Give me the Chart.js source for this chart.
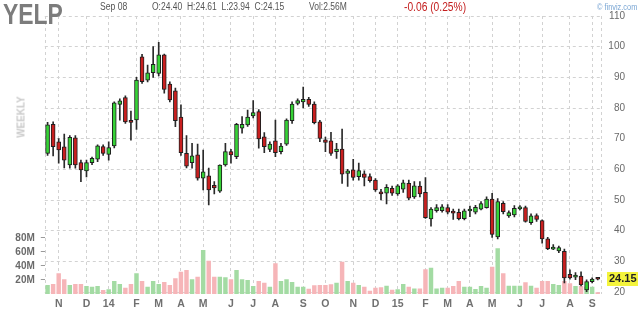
<!DOCTYPE html>
<html>
<head>
<meta charset="utf-8">
<script src="https://cdn.jsdelivr.net/npm/chart.js@4/dist/chart.umd.min.js"></script>
<style>
  html, body { margin: 0; padding: 0; background: #fff; }
  #wrap { position: relative; width: 640px; height: 312px; overflow: hidden; font-family: 'Liberation Sans', Arial, sans-serif; }
  #wrap canvas { position: absolute; left: 0; top: 0; }
  .txt { position: absolute; white-space: pre; line-height: 1; transform-origin: left top; }
  #ticker { left: 3px; top: 0px; font-size: 29px; font-weight: bold; color: #7c7c7c; transform: scaleX(0.79); }
  #date { left: 100px; top: 1.5px; font-size: 10px; color: #555; transform: scaleX(0.86); }
  #ohlc { left: 152px; top: 1.5px; font-size: 10px; color: #555; transform: scaleX(0.85); }
  #vol { left: 309px; top: 1.5px; font-size: 10px; color: #555; transform: scaleX(0.85); }
  #chg { left: 404px; top: 1px; font-size: 12.5px; color: #c41e1e; transform: scaleX(0.82); }
  #site { left: 597px; top: 2.5px; font-size: 9px; color: #7aa6d4; transform: scaleX(0.82); }
  #period { left: 21px; top: 117px; font-size: 11px; font-weight: bold; color: #c9c9c9; transform-origin: center; transform: translate(-50%, -50%) rotate(-90deg) scaleX(0.9); }
</style>
</head>
<body>
<div id="wrap">
  <canvas id="myChart" width="640" height="312"></canvas>
  <div class="txt" id="ticker">YELP</div>
  <div class="txt" id="date">Sep 08</div>
  <div class="txt" id="ohlc">O:24.40  H:24.61  L:23.94  C:24.15</div>
  <div class="txt" id="vol">Vol:2.56M</div>
  <div class="txt" id="chg">-0.06 (0.25%)</div>
  <div class="txt" id="site">© finviz.com</div>
  <div class="txt" id="period">WEEKLY</div>
</div>
<script>
// weekly bars, week ending Friday
const startWeek = '2013-10-18';
const monthLetters = ['J', 'F', 'M', 'A', 'M', 'J', 'J', 'A', 'S', 'O', 'N', 'D'];

const open = [65.2, 74.7, 69.0, 67.3, 61.4, 70.3, 62.2, 59.5, 62.2, 63.3,
    67.4, 64.9, 67.6, 81.2, 83.4, 76.0, 76.1, 96.7, 89.1, 91.5,
    91.3, 97.3, 87.8, 85.6, 77.0, 65.2, 62.2, 64.7, 57.1, 57.9,
    54.8, 52.9, 61.4, 65.8, 64.1, 73.4, 74.5, 77.4, 78.8, 70.6,
    66.5, 69.3, 65.8, 68.2, 75.9, 81.5, 82.0, 82.8, 81.3, 75.5,
    69.6, 69.3, 65.8, 66.6, 58.7, 59.8, 57.6, 58.5, 57.6, 56.5,
    52.7, 52.2, 53.8, 52.0, 53.5, 55.4, 51.0, 54.5, 52.5, 43.8,
    46.5, 46.5, 47.5, 46.4, 46.0, 43.9, 46.4, 46.0, 47.0, 47.5,
    50.3, 38.0, 48.9, 44.8, 45.1, 47.1, 47.5, 42.6, 44.9, 43.3,
    37.3, 34.0, 33.4, 33.3, 25.8, 24.8, 25.2, 20.7, 23.4, 24.40];
const high = [75.3, 75.5, 70.0, 71.5, 71.0, 71.0, 63.0, 63.0, 64.0, 68.0,
    68.0, 69.0, 82.0, 83.0, 84.0, 79.0, 90.0, 97.5, 94.0, 100.0,
    101.4, 97.6, 88.5, 86.5, 81.0, 71.0, 68.5, 68.2, 66.3, 60.4,
    56.0, 61.5, 68.5, 66.5, 75.0, 77.2, 79.3, 82.4, 79.5, 72.0,
    69.0, 76.1, 68.5, 76.5, 82.0, 83.0, 86.8, 83.5, 82.0, 76.0,
    70.5, 72.1, 68.5, 73.1, 60.0, 63.3, 62.0, 59.5, 58.5, 57.0,
    53.5, 55.0, 54.5, 55.0, 56.5, 56.5, 56.0, 56.0, 57.3, 47.5,
    48.5, 48.5, 48.5, 47.0, 47.0, 47.0, 48.0, 48.3, 49.5, 51.0,
    52.2, 50.5, 49.5, 46.5, 48.2, 48.2, 48.0, 45.5, 45.5, 43.5,
    37.8, 35.5, 35.0, 34.0, 27.2, 26.3, 26.6, 24.0, 24.6, 24.61];
const low = [64.5, 64.4, 62.0, 60.5, 60.4, 60.4, 56.0, 57.5, 61.5, 62.5,
    64.5, 63.0, 67.0, 76.0, 75.0, 69.5, 73.0, 88.0, 88.5, 90.0,
    90.5, 84.8, 82.0, 73.9, 64.5, 60.5, 60.4, 56.5, 53.3, 48.4,
    52.0, 52.5, 61.0, 62.0, 63.5, 71.8, 74.0, 76.8, 66.9, 65.4,
    65.8, 64.1, 65.0, 67.8, 75.0, 81.0, 80.0, 80.5, 74.8, 69.0,
    65.8, 64.5, 63.6, 55.4, 54.4, 56.5, 56.5, 54.6, 55.8, 52.8,
    50.0, 48.7, 51.5, 51.5, 52.5, 50.0, 50.5, 51.0, 44.0, 41.5,
    46.0, 46.0, 45.5, 43.7, 43.5, 43.5, 44.6, 45.5, 46.8, 47.3,
    37.8, 37.3, 45.5, 44.3, 44.5, 46.8, 42.8, 42.0, 43.0, 35.9,
    33.8, 33.8, 32.8, 23.0, 24.2, 24.0, 22.0, 20.1, 23.0, 23.94];
const close = [74.5, 67.4, 66.3, 63.0, 70.4, 61.4, 59.8, 62.2, 63.6, 67.7,
    65.2, 67.1, 81.7, 82.3, 75.5, 75.3, 89.1, 88.6, 91.5, 94.2,
    97.3, 86.1, 82.6, 75.9, 65.4, 61.0, 64.4, 57.1, 59.2, 53.3,
    53.9, 61.4, 65.8, 64.7, 74.7, 74.7, 77.0, 78.5, 69.9, 67.4,
    68.2, 65.4, 67.6, 76.1, 81.3, 82.4, 82.8, 81.2, 75.2, 70.1,
    68.8, 65.2, 66.6, 58.4, 59.5, 57.4, 59.6, 57.4, 56.3, 53.3,
    52.0, 54.1, 52.2, 54.6, 55.6, 50.6, 54.6, 52.0, 44.2, 47.0,
    47.5, 47.8, 46.0, 45.7, 43.9, 46.5, 47.0, 47.6, 48.8, 50.3,
    38.8, 49.5, 46.2, 45.9, 47.3, 47.8, 43.0, 44.8, 43.7, 37.3,
    34.1, 34.2, 34.5, 24.6, 24.6, 25.5, 22.3, 23.4, 24.2, 24.15];
// weekly volume, millions of shares
const volume = [12.9, 14.3, 29.5, 21, 12.9, 14.3, 14.3, 11.4, 10.5, 11.4,
    5.7, 6.7, 18.6, 14.3, 9, 14.3, 29.5, 18.6, 10.5, 18.6,
    14.3, 17.1, 12.9, 22.4, 31.9, 34.3, 21, 24.8, 62.9, 47.6,
    24.8, 24.8, 23.8, 21, 34.3, 21, 20, 11.4, 18.6, 16.2,
    10.5, 43.8, 18.6, 21, 17.1, 10.5, 10.5, 7.6, 12.4, 13,
    13, 13.8, 16.2, 46.2, 18.6, 16.2, 13, 10.5, 4.8, 9,
    9.5, 11.9, 6, 6.7, 14.3, 10.5, 8, 8, 35.2, 37.6,
    8, 9, 9, 11.4, 18.6, 10.5, 10.5, 7, 11.4, 9,
    39, 65.2, 29.5, 11.9, 11.9, 11.9, 16.7, 11.9, 9, 18.6,
    18.6, 14.3, 13, 18.6, 15.2, 11.4, 11.4, 10.5, 10.5, 2.56];

const priceTicks = [20, 30, 40, 50, 60, 70, 80, 90, 100, 110];
const volumeTicks = [20, 40, 60, 80];

const weeks = [];
for (let i = 0; i < close.length; i++) {
    const d = new Date(Date.parse(startWeek) + i * 7 * 864e5);
    weeks.push(d.toISOString().slice(0, 10));
}

function tickText(i) {
    if (!i) return '';
    const m = +weeks[i].slice(5, 7) - 1;
    if (m === +weeks[i - 1].slice(5, 7) - 1) return '';
    return m === 0 ? weeks[i].slice(2, 4) : monthLetters[m];
}

const up = close.map((c, i) => c >= open[i]);
const gridColor = '#d2d2d2';

const framePlugin = {
    id: 'frame',
    beforeDatasetsDraw(chart) {
        const { ctx, chartArea: a } = chart;
        ctx.save();
        ctx.strokeStyle = gridColor;
        ctx.lineWidth = 1;
        ctx.setLineDash([3, 3]);
        ctx.beginPath();
        ctx.moveTo(Math.round(a.left) + 0.5, a.top);
        ctx.lineTo(Math.round(a.left) + 0.5, a.bottom);
        ctx.moveTo(Math.round(a.right) + 0.5, a.top);
        ctx.lineTo(Math.round(a.right) + 0.5, a.bottom);
        ctx.stroke();
        ctx.restore();
    },
    afterDraw(chart) {
        // last price tag on the price axis
        const { ctx } = chart;
        const last = close[close.length - 1];
        const y = chart.scales.price.getPixelForValue(last);
        ctx.save();
        ctx.fillStyle = '#f4f43c';
        ctx.fillRect(607, Math.round(y) - 7, 31, 14);
        ctx.fillStyle = '#222';
        ctx.font = 'bold 11px "Liberation Sans", Arial, sans-serif';
        ctx.textAlign = 'left';
        ctx.textBaseline = 'middle';
        ctx.fillText(last.toFixed(2), 609, Math.round(y));
        ctx.restore();
    }
};

function renderChart() {
    const ctx = document.getElementById('myChart');
    return new Chart(ctx, {
        type: 'bar',
        data: {
            labels: weeks,
            datasets: [{
                label: 'Body',
                data: open.map((o, i) => [Math.min(o, close[i]), Math.max(o, close[i])]),
                yAxisID: 'price',
                backgroundColor: up.map(u => u ? '#36d236' : '#c91f1f'),
                borderColor: '#1e1e1e',
                borderWidth: 1,
                borderSkipped: false,
                barThickness: 4,
                minBarLength: 2,
                grouped: false,
                order: 0
            }, {
                label: 'Wick',
                data: low.map((l, i) => [l, high[i]]),
                yAxisID: 'price',
                backgroundColor: '#2a2a2a',
                borderWidth: 0,
                barThickness: 1,
                grouped: false,
                order: 1
            }, {
                label: 'Volume',
                data: volume,
                yAxisID: 'vol',
                backgroundColor: up.map(u => u ? '#a3dba3' : '#f6b5b8'),
                borderWidth: 0,
                barPercentage: 0.8,
                categoryPercentage: 1,
                grouped: false,
                order: 2
            }]
        },
        options: {
            responsive: false,
            animation: false,
            layout: { padding: { top: 16, right: 15, left: 0, bottom: 0 } },
            plugins: {
                legend: { display: false },
                tooltip: { enabled: false }
            },
            scales: {
                x: {
                    offset: true,
                    grid: {
                        offset: false,
                        drawTicks: false,
                        color: c => tickText(c.index) ? gridColor : 'rgba(0,0,0,0)'
                    },
                    border: { display: false, dash: [3, 3] },
                    ticks: {
                        autoSkip: false,
                        maxRotation: 0,
                        minRotation: 0,
                        padding: 4,
                        color: '#707070',
                        font: { family: 'Liberation Sans', size: 10.5, weight: 'bold' },
                        callback: (v, i) => tickText(i)
                    },
                    afterFit: s => { s.height = 18; }
                },
                price: {
                    position: 'right',
                    min: 19.35,
                    max: 110,
                    afterBuildTicks: s => { s.ticks = priceTicks.map(v => ({ value: v })); },
                    grid: { color: gridColor, drawTicks: false },
                    border: { display: false, dash: [3, 3] },
                    ticks: {
                        crossAlign: 'far',
                        color: '#6a6a6a',
                        font: { family: 'Liberation Sans', size: 10 }
                    },
                    afterFit: s => { s.width = 24.5; }
                },
                vol: {
                    position: 'left',
                    min: 0,
                    max: 397,
                    afterBuildTicks: s => { s.ticks = volumeTicks.map(v => ({ value: v })); },
                    grid: { drawOnChartArea: false, drawTicks: true, tickLength: 4, color: '#9a9a9a' },
                    border: { display: false },
                    ticks: {
                        padding: 6,
                        color: '#6a6a6a',
                        font: { family: 'Liberation Sans', size: 10, weight: 'bold' },
                        callback: v => v + 'M'
                    },
                    afterFit: s => { s.width = 44.8; }
                }
            }
        },
        plugins: [framePlugin]
    });
}

renderChart();
</script>
</body>
</html>
